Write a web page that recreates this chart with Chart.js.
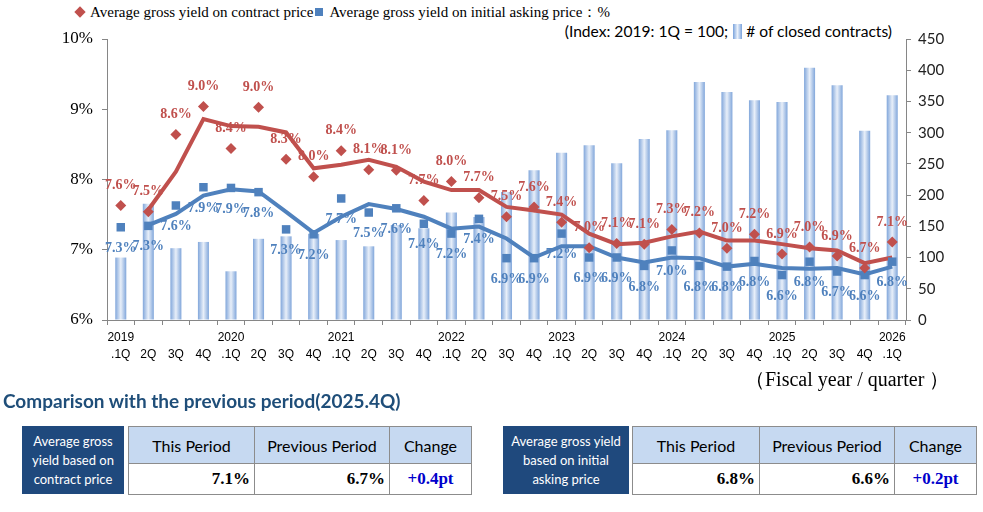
<!DOCTYPE html>
<html>
<head>
<meta charset="utf-8">
<script src="https://cdn.jsdelivr.net/npm/chart.js@4.4.1/dist/chart.umd.min.js"></script>
<style>
  body { margin:0; width:983px; height:512px; background:#fff; position:relative; overflow:hidden; }
  .abs { position:absolute; white-space:nowrap; }
  .dia { display:inline-block; width:8px; height:8px; background:#c0504d; transform:rotate(45deg); margin:0 6px 1px 4px; }
  .sq { display:inline-block; width:8px; height:8px; background:#4f81bd; margin:0 6px 1px 2px; }
  .barico { display:inline-block; width:9px; height:15px; vertical-align:-2px; margin:0 4px 0 5px;
    background:linear-gradient(to right,#7aa3dc,#e9f0fa 50%,#7aa3dc); }
  .title { font:bold 19px Lato; color:#1f4e79; }
  .dark { background:#1f497d; color:#fff; font:13px Lato; line-height:19px; text-align:center;
    display:flex; align-items:center; justify-content:center; }
  table.cmp { position:absolute; border-collapse:collapse; }
  table.cmp td { border:1.5px solid #8c8c8c; padding:0; }
  table.cmp td.h { background:#c6d9f1; font:16px Lato; text-align:center; height:36px; }
  table.cmp td.v { font:bold 17px "Liberation Serif"; text-align:right; padding-right:4px; height:30px; }
  table.cmp td.c { font:bold 17px "Liberation Serif"; color:#0000cc; text-align:center; }
</style>
</head>
<body>
<div class="abs" style="left:72px; top:3px; font:15px 'Liberation Serif';"><span class="dia"></span>Average gross yield on contract price<span class="sq"></span>Average gross yield on initial asking price：%</div>
<div class="abs" style="right:91px; top:22px; font:15.6px Lato;">(Index: 2019: 1Q = 100;<span class="barico"></span># of closed contracts)</div>
<div style="position:absolute; left:0; top:0;"><canvas id="c1" width="983" height="390"></canvas></div>
<div class="abs" style="left:745px; top:366px; font:20px 'Liberation Serif';">（Fiscal year / quarter ）</div>

<div class="abs title" style="left:3px; top:389px;">Comparison with the previous period(2025.4Q)</div>

<div class="abs dark" style="left:22px; top:426px; width:102px; height:68px;">Average gross<br>yield based on<br>contract price</div>
<table class="cmp" style="left:128px; top:426px; width:344px;">
  <tr><td class="h" style="width:125px">This Period</td><td class="h" style="width:134px">Previous Period</td><td class="h">Change</td></tr>
  <tr><td class="v">7.1%</td><td class="v">6.7%</td><td class="c">+0.4pt</td></tr>
</table>

<div class="abs dark" style="left:503px; top:426px; width:126px; height:68px;">Average gross yield<br>based on initial<br>asking price</div>
<table class="cmp" style="left:632px; top:426px; width:345px;">
  <tr><td class="h" style="width:126px">This Period</td><td class="h" style="width:134px">Previous Period</td><td class="h">Change</td></tr>
  <tr><td class="v">6.8%</td><td class="v">6.6%</td><td class="c">+0.2pt</td></tr>
</table>

<script>
var years = ['2019', '2020', '2021', '2022', '2023', '2024', '2025', '2026'];
var quarters = ['.1Q', '2Q', '3Q', '4Q'];

// # of closed contracts (index, 2019 1Q = 100)
var contracts = [100, 186, 115, 125, 78, 130, 134, 138, 128, 118, 152, 147, 172, 165, 205,
                 240, 268, 280, 251, 290, 304, 381, 365, 352, 349, 404, 376, 303, 360];
// average gross yield on contract price (%)
var yieldContract = [7.63, 7.54, 8.64, 9.04, 8.44, 9.03, 8.29, 8.04, 8.41, 8.14, 8.13, 7.70, 7.97, 7.74, 7.47,
                     7.61, 7.39, 7.03, 7.09, 7.08, 7.29, 7.24, 7.02, 7.22, 6.94, 7.04, 6.91, 6.74, 7.11];
// average gross yield on initial asking price (%)
var yieldAsking = [7.32, 7.34, 7.63, 7.89, 7.88, 7.82, 7.29, 7.22, 7.73, 7.53, 7.59, 7.37, 7.23, 7.44, 6.88,
                   6.88, 7.23, 6.89, 6.89, 6.77, 6.99, 6.77, 6.76, 6.84, 6.64, 6.83, 6.69, 6.64, 6.83];
// trend lines
var trendContract = [null, 7.57, 8.11, 8.86, 8.76, 8.75, 8.67, 8.16, 8.21, 8.28, 8.18, 7.97, 7.85, 7.85, 7.61,
                     7.56, 7.50, 7.23, 7.08, 7.10, 7.19, 7.26, 7.13, 7.13, 7.08, 7.02, 6.99, 6.81, 6.89];
var trendAsking = [null, 7.35, 7.51, 7.77, 7.86, 7.83, 7.54, 7.24, 7.47, 7.65, 7.58, 7.47, 7.30, 7.33, 7.16,
                   6.89, 7.05, 7.05, 6.89, 6.82, 6.89, 6.88, 6.76, 6.80, 6.74, 6.73, 6.74, 6.65, 6.76];

var labels = [];
years.forEach(function (y) {
    quarters.forEach(function (q, qi) {
        if (labels.length < contracts.length) labels.push([qi === 0 ? y : '', q]);
    });
});

var red = '#c0504d', blue = '#4f81bd', axisGray = '#868686';

var pointLabels = {
    id: 'pointLabels',
    afterDatasetsDraw: function (chart) {
        var ctx = chart.ctx;
        chart.data.datasets.forEach(function (ds, i) {
            if (!ds.labelColor) return;
            chart.getDatasetMeta(i).data.forEach(function (pt, j) {
                var v = ds.data[j];
                if (v == null) return;
                ctx.save();
                ctx.font = 'bold 14px "Liberation Serif"';
                ctx.fillStyle = ds.labelColor;
                ctx.textAlign = 'center';
                ctx.textBaseline = 'middle';
                ctx.fillText(v.toFixed(1) + '%', pt.x, pt.y + ds.labelOffset);
                ctx.restore();
            });
        });
    }
};

function barFill(c) {
    var chart = c.chart, xs = chart.scales.x;
    if (!xs || c.dataIndex == null) return '#b4c9e8';
    var cx = xs.getPixelForValue(c.dataIndex);
    if (!isFinite(cx)) return '#b4c9e8';
    var g = chart.ctx.createLinearGradient(cx - 6, 0, cx + 6, 0);
    g.addColorStop(0, '#78a0d8');
    g.addColorStop(0.5, '#e8eff9');
    g.addColorStop(1, '#78a0d8');
    return g;
}

var ctx = document.getElementById('c1').getContext('2d');
var chart = new Chart(ctx, {
    type: 'bar',
    data: {
        labels: labels,
        datasets: [
            {
                type: 'line', label: 'contract', data: yieldContract, yAxisID: 'y', order: 1,
                showLine: false, pointStyle: 'rectRot', pointRadius: 5.5,
                pointBackgroundColor: red, pointBorderColor: red, pointBorderWidth: 0,
                labelColor: red, labelOffset: -20
            },
            {
                type: 'line', label: 'asking', data: yieldAsking, yAxisID: 'y', order: 1,
                showLine: false, pointStyle: 'rect', pointRadius: 6,
                pointBackgroundColor: blue, pointBorderColor: blue, pointBorderWidth: 0,
                labelColor: blue, labelOffset: 21
            },
            {
                type: 'line', label: 'trend contract', data: trendContract, yAxisID: 'y', order: 2,
                borderColor: red, borderWidth: 4, pointRadius: 0, fill: false, tension: 0
            },
            {
                type: 'line', label: 'trend asking', data: trendAsking, yAxisID: 'y', order: 2,
                borderColor: blue, borderWidth: 4, pointRadius: 0, fill: false, tension: 0
            },
            {
                type: 'bar', label: '# of closed contracts', data: contracts, yAxisID: 'y1', order: 3,
                backgroundColor: barFill, borderWidth: 0,
                categoryPercentage: 1, barPercentage: 0.4
            }
        ]
    },
    options: {
        responsive: false,
        animation: false,
        layout: { padding: { top: 39, left: 0, right: 0, bottom: 0 } },
        plugins: { legend: { display: false }, tooltip: { enabled: false } },
        scales: {
            x: {
                afterFit: function (s) { s.height = 70; },
                grid: { display: true, drawOnChartArea: false, drawTicks: true, tickLength: 5, color: axisGray, offset: true },
                border: { color: axisGray, width: 1 },
                ticks: { autoSkip: false, maxRotation: 0, padding: 4, color: '#000',
                         font: { family: 'Liberation Sans', size: 12, lineHeight: 1.4 } }
            },
            y: {
                position: 'left', min: 6, max: 10,
                afterFit: function (s) { s.width = 107; },
                grid: { display: true, drawOnChartArea: false, drawTicks: true, tickLength: 5, color: axisGray },
                border: { color: axisGray, width: 1 },
                ticks: { stepSize: 1, padding: 9, color: '#000',
                         font: { family: 'Liberation Serif', size: 17 },
                         callback: function (v) { return v + '%'; } }
            },
            y1: {
                position: 'right', min: 0, max: 450,
                afterFit: function (s) { s.width = 77; },
                grid: { display: true, drawOnChartArea: false, drawTicks: true, tickLength: 5, color: axisGray },
                border: { color: axisGray, width: 1 },
                ticks: { stepSize: 50, padding: 7, color: '#222', font: { family: 'Lato', size: 15 } }
            }
        }
    },
    plugins: [pointLabels]
});
</script>
</body>
</html>
